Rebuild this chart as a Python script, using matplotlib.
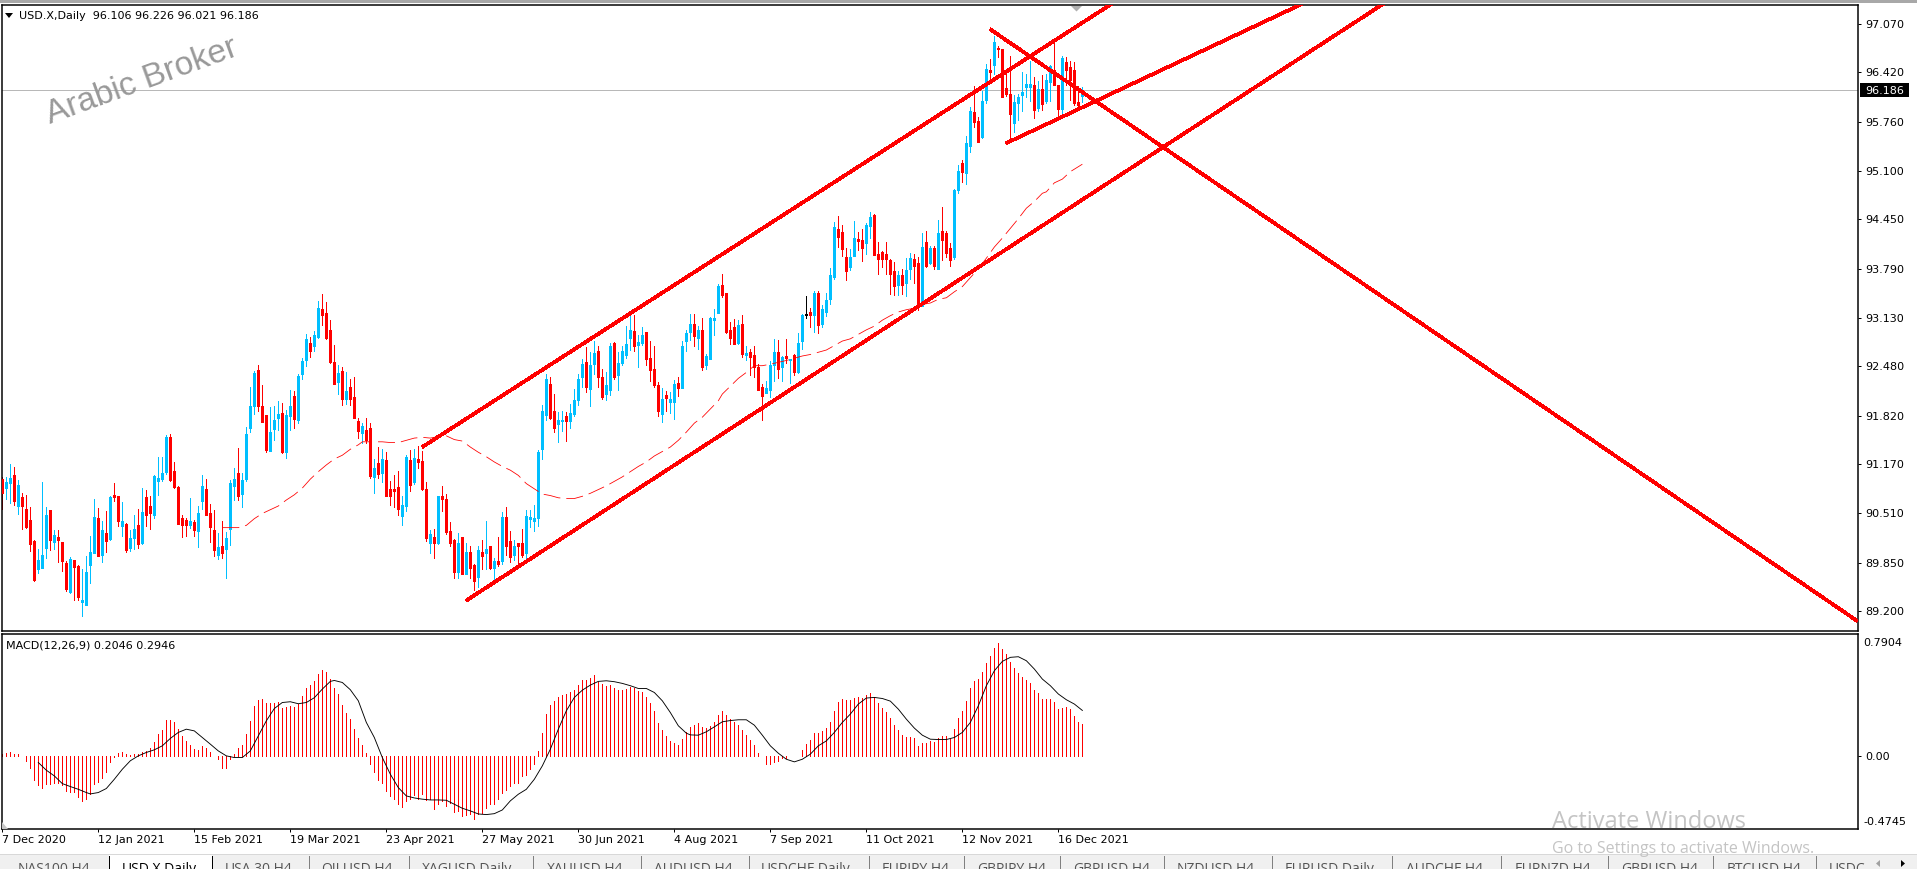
import matplotlib
matplotlib.use('Agg')
import matplotlib.pyplot as plt
from matplotlib.patches import Rectangle, Polygon
from matplotlib.transforms import Affine2D

plt.rcParams['font.family'] = ['DejaVu Sans']
plt.rcParams['lines.scale_dashes'] = False

W, H = 1917, 869
PX = 72.0 / 100  # one pixel in points at dpi 100
PIXEL = Affine2D().scale(1, -1).translate(0, H)  # pixel coords, origin top left

# daily candles, oldest first
highs = [
  91.00,91.00,91.17,91.13,90.96,90.78,90.76,90.60,90.15,90.03,
  90.93,90.60,90.56,90.29,90.29,90.13,89.87,89.93,89.89,89.82,
  89.76,89.94,90.21,90.70,90.58,90.41,90.54,90.74,90.92,90.74,
  90.66,90.38,90.29,90.49,90.57,90.85,90.82,90.74,91.03,91.27,
  91.27,91.56,91.57,91.20,90.88,90.49,90.45,90.72,90.42,90.61,
  91.03,90.97,90.64,90.56,90.25,90.41,90.26,90.96,91.12,91.39,
  91.05,91.67,92.21,92.42,92.50,92.23,91.83,91.94,91.95,92.02,
  91.99,91.90,92.16,92.15,92.38,92.59,92.92,92.88,92.96,93.36,
  93.45,93.35,93.10,92.77,92.50,92.47,92.41,92.31,92.34,91.79,
  91.72,91.79,91.72,91.24,91.40,91.38,91.33,90.94,91.02,91.08,
  90.74,91.29,91.36,91.37,91.41,91.35,90.93,90.29,90.30,90.75,
  90.88,90.77,90.39,90.17,90.25,90.19,90.12,90.07,89.83,90.07,
  90.15,90.41,90.07,89.91,90.20,90.53,90.59,90.27,90.15,90.11,
  90.30,90.55,90.55,90.62,91.36,91.96,92.38,92.34,92.11,91.87,
  91.88,91.87,91.97,92.18,92.38,92.58,92.74,92.67,92.82,92.75,
  92.44,92.40,92.79,92.81,92.67,92.75,93.02,93.16,93.17,92.90,
  93.01,92.94,92.82,92.75,92.27,92.19,92.15,92.14,92.30,92.34,
  92.82,92.97,93.18,93.18,93.02,93.13,92.65,93.14,93.25,93.58,
  93.72,93.46,93.07,93.11,93.10,93.17,92.76,92.72,92.76,92.51,
  92.24,92.28,92.55,92.85,92.83,92.62,92.85,92.58,92.65,92.93,
  93.18,93.42,93.26,93.49,93.49,93.30,93.46,93.80,94.41,94.50,
  94.37,94.07,94.05,94.43,94.28,94.32,94.40,94.55,94.52,94.15,
  94.03,94.15,93.92,93.88,93.76,93.78,93.93,94.00,93.99,93.95,
  94.27,94.29,94.09,94.09,94.44,94.61,94.30,94.13,94.86,95.18,
  95.24,95.57,95.96,96.24,95.82,96.17,96.53,96.60,96.91,96.77,
  96.73,96.45,96.64,96.12,96.13,96.42,96.40,96.57,96.36,96.30,
  96.38,96.40,96.52,96.83,96.25,96.64,96.63,96.57,96.56,96.24,96.226]
body_tops = [
  90.97,90.93,90.98,91.03,90.89,90.73,90.57,90.42,90.14,89.89,
  89.95,90.49,90.56,90.22,90.19,90.13,89.85,89.90,89.89,89.80,
  89.35,89.72,89.99,90.46,90.45,90.29,90.25,90.73,90.76,90.74,
  90.41,90.37,90.18,90.30,90.35,90.53,90.73,90.61,91.01,90.98,
  91.05,91.53,91.53,91.08,90.86,90.45,90.42,90.41,90.39,90.52,
  90.88,90.84,90.52,90.29,90.06,90.07,90.18,90.92,90.97,91.05,
  90.96,91.57,91.95,92.39,92.43,91.95,91.83,91.60,91.76,91.84,
  91.86,91.83,91.95,92.08,92.35,92.55,92.85,92.80,92.90,93.26,
  93.25,93.20,92.97,92.54,92.39,92.42,92.15,92.21,92.07,91.75,
  91.68,91.63,91.65,91.12,91.18,91.24,91.22,90.84,90.84,90.86,
  90.62,91.26,91.22,91.25,91.24,91.21,90.84,90.23,90.19,90.75,
  90.75,90.71,90.27,90.15,90.11,90.19,90.00,90.00,89.82,90.02,
  90.00,90.03,90.07,89.87,89.87,90.46,90.46,90.14,90.07,90.11,
  90.12,90.47,90.46,90.45,91.33,91.88,92.31,92.24,91.88,91.76,
  91.76,91.81,91.85,92.03,92.31,92.51,92.54,92.50,92.66,92.69,
  92.34,92.23,92.75,92.79,92.52,92.69,92.78,92.97,92.95,92.81,
  92.90,92.94,92.59,92.44,92.23,92.04,92.10,92.04,92.24,92.26,
  92.75,92.93,93.05,93.05,92.97,92.97,92.62,93.13,93.13,93.56,
  93.57,93.46,92.97,93.01,93.03,93.05,92.66,92.68,92.63,92.47,
  92.20,92.19,92.50,92.67,92.68,92.60,92.62,92.58,92.63,92.80,
  93.17,93.18,93.21,93.46,93.46,93.25,93.37,93.70,94.35,94.32,
  94.28,93.95,93.95,94.20,94.19,94.17,94.37,94.48,94.51,93.99,
  94.01,93.99,93.91,93.76,93.70,93.70,93.77,93.93,93.92,93.87,
  94.08,94.15,94.07,94.07,94.27,94.29,94.27,94.07,94.84,95.10,
  95.20,95.47,95.90,95.89,95.77,96.04,96.46,96.45,96.83,96.75,
  96.73,96.21,96.13,96.02,96.09,96.16,96.26,96.26,96.25,96.20,
  96.20,96.32,96.50,96.45,96.25,96.61,96.56,96.49,96.45,96.02,96.186]
body_bottoms = [
  90.78,90.85,90.92,90.68,90.61,90.61,90.33,90.10,89.62,89.76,
  89.78,90.05,90.15,90.13,90.15,89.87,89.50,89.46,89.79,89.39,
  89.32,89.28,89.82,89.98,89.94,89.95,90.14,90.17,90.73,90.41,
  90.34,90.02,90.05,90.18,90.10,90.11,90.49,90.52,90.49,90.94,
  90.97,91.07,90.96,90.86,90.37,90.35,90.35,90.35,90.29,90.27,
  90.68,90.49,90.33,90.02,89.95,89.98,90.03,90.30,90.88,90.74,
  90.77,90.97,91.66,91.95,91.95,91.74,91.36,91.35,91.64,91.79,
  91.33,91.33,91.82,91.78,91.76,92.38,92.57,92.69,92.75,92.88,
  93.17,92.86,92.54,92.25,92.27,92.04,92.04,92.04,91.79,91.62,
  91.59,91.49,91.01,91.00,91.04,91.05,90.75,90.74,90.81,90.57,
  90.47,90.61,90.89,90.93,91.20,90.84,90.18,90.11,90.11,90.11,
  90.70,90.26,90.12,89.72,89.72,89.70,89.70,89.78,89.60,89.66,
  89.94,89.98,89.78,89.78,89.83,89.87,90.08,89.92,89.95,90.07,
  89.96,89.98,90.43,90.41,90.45,91.37,91.83,91.79,91.65,91.71,
  91.75,91.75,91.75,91.84,92.03,92.34,92.20,92.18,92.51,92.34,
  92.07,92.11,92.16,92.34,92.36,92.52,92.63,92.86,92.75,92.77,
  92.79,92.58,92.43,92.23,91.88,91.84,92.06,92.00,92.00,92.19,
  92.19,92.82,92.94,92.89,92.86,92.47,92.50,92.58,93.10,93.20,
  93.44,92.94,92.86,92.78,92.80,92.64,92.63,92.60,92.47,92.16,
  92.09,92.12,92.16,92.50,92.44,92.47,92.59,92.56,92.40,92.40,
  92.82,93.17,93.17,93.17,93.03,93.05,93.21,93.38,93.68,94.21,
  94.05,93.76,93.81,93.96,94.16,94.07,94.13,94.36,93.97,93.92,
  93.92,93.92,93.72,93.56,93.57,93.57,93.60,93.78,93.82,93.29,
  93.29,93.82,93.87,93.82,93.78,94.17,94.00,93.90,93.94,94.84,
  95.08,95.07,95.43,95.75,95.49,95.55,96.05,96.42,96.52,96.73,
  96.09,96.13,95.86,95.74,96.01,96.12,96.22,96.22,95.92,95.94,
  95.99,96.04,96.29,96.25,95.93,95.93,96.45,96.32,96.01,95.98,96.106]
lows = [
  90.57,90.70,90.65,90.62,90.50,90.30,90.31,90.01,89.60,89.71,
  89.78,89.91,90.02,90.03,89.86,89.74,89.47,89.44,89.35,89.35,
  89.13,89.28,89.58,89.98,89.94,89.86,89.99,90.15,90.68,90.34,
  90.21,89.99,90.01,90.03,90.05,90.10,90.34,90.30,90.45,90.76,
  90.94,91.04,90.94,90.85,90.37,90.19,90.21,90.31,90.21,90.06,
  90.57,90.49,90.13,89.94,89.90,89.91,89.64,90.09,90.69,90.69,
  90.60,90.94,91.60,91.84,91.88,91.74,91.33,91.35,91.49,91.63,
  91.32,91.25,91.63,91.66,91.72,92.31,92.49,92.61,92.69,92.86,
  93.04,92.85,92.53,92.25,92.11,91.96,91.98,91.96,91.79,91.52,
  91.45,91.45,90.98,90.79,90.98,90.93,90.74,90.62,90.59,90.49,
  90.35,90.54,90.81,90.90,91.12,90.82,90.14,89.98,89.91,90.10,
  90.54,90.23,90.07,89.64,89.64,89.70,89.70,89.64,89.48,89.53,
  89.76,89.76,89.76,89.61,89.80,89.83,89.96,89.86,89.88,89.80,
  89.92,89.88,90.33,90.27,90.34,91.24,91.76,91.77,91.60,91.47,
  91.61,91.48,91.65,91.81,91.96,92.20,92.14,91.95,92.38,92.20,
  92.04,92.03,92.10,92.31,92.16,92.50,92.59,92.70,92.69,92.47,
  92.77,92.50,92.28,92.20,91.81,91.73,91.88,91.85,91.77,92.08,
  92.19,92.69,92.83,92.75,92.71,92.43,92.44,92.58,92.90,93.19,
  93.41,92.93,92.78,92.78,92.78,92.60,92.56,92.36,92.34,92.16,
  91.76,92.12,92.07,92.28,92.32,92.28,92.52,92.26,92.36,92.39,
  92.71,93.13,93.01,92.94,92.93,93.01,93.15,93.31,93.65,94.08,
  93.96,93.64,93.77,93.96,94.04,93.89,93.99,94.20,93.97,93.72,
  93.81,93.72,93.45,93.44,93.44,93.45,93.42,93.65,93.60,93.23,
  93.29,93.81,93.85,93.78,93.78,93.90,93.94,93.82,93.92,94.80,
  94.95,94.92,95.35,95.69,95.49,95.54,96.01,96.30,96.40,96.63,
  96.09,96.10,95.51,95.62,95.78,95.90,96.09,96.04,95.81,95.90,
  95.92,96.01,96.04,96.25,95.81,95.85,96.25,96.05,95.98,95.92,96.021]
# bars that closed up (drawn blue), everything else is red
bull_bars = [
  1,2,4,9,10,11,13,17,20,21,22,23,25,27,30,32,33,35,38,39,40,41,47,49,50,54,56,57,58,60,61,62,63,
  67,68,69,71,72,74,75,76,78,79,84,86,90,93,95,100,101,103,107,109,114,116,119,121,123,125,128,
  131,132,133,134,135,136,139,140,142,143,144,145,147,148,151,152,154,155,156,157,159,160,165,167,
  168,170,171,172,174,176,177,178,179,184,186,191,192,193,195,197,199,200,203,205,206,207,208,212,
  213,216,217,224,226,227,230,232,234,238,239,241,242,245,246,248,253,254,255,256,257,259,261,262,
  265,270]
doji_bars = [201]

# moving average
ma_bars = [
  55,59,61,63,65,67,69,71,73,75,77,79,81,83,85,87,89,90,91,93,95,97,99,101,103,105,107,109,111,113,
  115,117,119,121,123,125,127,129,131,133,135,137,139,141,143,145,147,149,151,153,155,157,159,161,
  163,165,167,169,171,173,175,177,179,180,184,186,188,190,192,196,200,202,204,206,208,210,212,214,
  216,218,220,222,224,226,228,230,232,234,236,238,240,242,244,246,248,250,252,254,256,258,260,261,
  263,265,267,270]
ma_values = [
  90.32,90.32,90.35,90.44,90.51,90.56,90.61,90.69,90.76,90.85,90.97,91.07,91.16,91.24,91.29,91.37,
  91.43,91.47,91.47,91.47,91.47,91.46,91.46,91.49,91.52,91.53,91.52,91.54,91.55,91.50,91.48,91.40,
  91.33,91.27,91.20,91.14,91.09,91.02,90.91,90.84,90.77,90.75,90.72,90.71,90.71,90.74,90.78,90.83,
  90.88,90.94,91.00,91.07,91.14,91.20,91.28,91.34,91.40,91.49,91.60,91.72,91.80,91.91,92.02,92.11,
  92.32,92.40,92.49,92.49,92.51,92.56,92.62,92.64,92.67,92.70,92.76,92.82,92.85,92.91,92.97,93.02,
  93.10,93.16,93.21,93.24,93.26,93.31,93.33,93.38,93.40,93.48,93.55,93.67,93.79,93.93,94.08,94.20,
  94.33,94.46,94.60,94.69,94.80,94.82,94.94,94.99,95.09,95.19]

# hand drawn trend lines: (bar, price) ends
upper_channel = ([105, 280], [91.40, 97.43])
lower_channel = ([115.9, 347], [89.34, 97.40])
wedge_low = ([250.9, 327], [95.47, 97.39])
wedge_high = ([246.9, 463.7], [97.00, 89.07])

macd_hist = [
  0.010,0.017,0.024,0.013,0.009,0.000,-0.032,-0.076,-0.156,-0.188,
  -0.208,-0.184,-0.182,-0.178,-0.173,-0.188,-0.229,-0.232,-0.234,-0.266,
  -0.292,-0.281,-0.245,-0.184,-0.169,-0.141,-0.108,-0.039,-0.006,0.017,
  0.028,0.009,0.004,0.009,0.011,0.026,0.032,0.054,0.087,0.141,
  0.167,0.234,0.232,0.217,0.173,0.130,0.097,0.069,0.043,0.039,
  0.061,0.050,0.022,0.000,-0.022,-0.076,-0.076,-0.022,0.009,0.054,
  0.069,0.141,0.225,0.323,0.362,0.370,0.346,0.342,0.342,0.349,
  0.312,0.320,0.323,0.314,0.336,0.385,0.439,0.459,0.483,0.530,
  0.556,0.546,0.498,0.439,0.401,0.329,0.281,0.238,0.173,0.115,
  0.069,0.017,-0.054,-0.104,-0.158,-0.178,-0.227,-0.260,-0.281,-0.314,
  -0.331,-0.292,-0.281,-0.253,-0.281,-0.249,-0.288,-0.281,-0.346,-0.314,
  -0.292,-0.325,-0.303,-0.364,-0.357,-0.390,-0.383,-0.379,-0.411,-0.379,
  -0.368,-0.336,-0.314,-0.314,-0.281,-0.238,-0.223,-0.195,-0.173,-0.178,
  -0.130,-0.126,-0.087,-0.054,0.032,0.147,0.271,0.329,0.355,0.379,
  0.396,0.401,0.411,0.426,0.459,0.491,0.494,0.504,0.522,0.476,
  0.465,0.450,0.459,0.439,0.426,0.426,0.433,0.448,0.437,0.422,
  0.414,0.383,0.344,0.290,0.214,0.167,0.130,0.095,0.082,0.069,
  0.108,0.152,0.186,0.199,0.212,0.184,0.178,0.195,0.221,0.264,
  0.290,0.268,0.238,0.221,0.199,0.167,0.134,0.102,0.069,0.017,
  0.000,-0.050,-0.054,-0.039,-0.032,-0.017,-0.017,-0.004,-0.004,-0.002,
  0.039,0.076,0.102,0.147,0.147,0.160,0.180,0.221,0.292,0.351,
  0.368,0.364,0.364,0.377,0.381,0.375,0.396,0.407,0.379,0.342,
  0.310,0.284,0.245,0.199,0.167,0.134,0.121,0.121,0.115,0.063,
  0.082,0.082,0.095,0.089,0.115,0.128,0.128,0.108,0.173,0.245,
  0.290,0.355,0.439,0.485,0.498,0.543,0.602,0.647,0.699,0.732,
  0.693,0.660,0.608,0.569,0.537,0.511,0.491,0.472,0.426,0.407,
  0.368,0.366,0.368,0.349,0.303,0.312,0.316,0.303,0.258,0.219,0.2046]

signal_bars = [
  9,11,13,15,17,19,21,22,24,26,28,30,32,34,36,38,40,42,44,46,48,50,52,54,56,58,60,62,64,66,68,70,
  72,74,76,78,80,82,83,85,87,89,91,93,95,97,99,101,103,105,107,109,111,113,115,117,119,121,123,125,
  127,129,131,133,135,137,139,141,143,145,147,149,151,153,155,157,159,161,163,165,167,169,171,172,
  174,176,178,180,182,184,186,188,190,192,194,196,198,200,202,204,206,208,210,212,214,216,218,220,
  222,224,226,228,230,232,234,236,238,240,242,244,246,248,250,252,254,256,258,260,262,264,266,268,270]
signal_values = [
  -0.043,-0.093,-0.130,-0.180,-0.199,-0.217,-0.238,-0.247,-0.238,-0.212,-0.152,-0.087,-0.032,0.000,
  0.022,0.039,0.065,0.113,0.152,0.173,0.162,0.119,0.076,0.032,0.000,-0.011,-0.011,0.032,0.130,0.227,
  0.307,0.346,0.351,0.338,0.346,0.377,0.433,0.483,0.489,0.476,0.429,0.357,0.217,0.119,-0.011,-0.119,
  -0.206,-0.260,-0.273,-0.281,-0.286,-0.286,-0.288,-0.314,-0.340,-0.357,-0.377,-0.381,-0.375,-0.351,
  -0.292,-0.249,-0.217,-0.152,-0.065,0.043,0.173,0.292,0.379,0.426,0.459,0.483,0.487,0.481,0.470,
  0.455,0.437,0.437,0.411,0.357,0.281,0.195,0.147,0.136,0.134,0.156,0.188,0.221,0.229,0.234,0.234,
  0.199,0.134,0.065,0.017,-0.022,-0.039,-0.022,0.011,0.065,0.097,0.152,0.217,0.271,0.336,0.375,0.379,
  0.372,0.355,0.303,0.238,0.180,0.134,0.108,0.106,0.106,0.119,0.152,0.217,0.325,0.455,0.552,0.613,
  0.639,0.643,0.617,0.563,0.498,0.455,0.401,0.364,0.336,0.2946]

price_ticks = [97.07, 96.42, 95.76, 95.10, 94.45, 93.79, 93.13, 92.48, 91.82, 91.17, 90.51, 89.85, 89.20]
last_price = 96.186
date_bars = [0, 24, 48, 72, 96, 120, 144, 168, 192, 216, 240, 264]
date_labels = ['7 Dec 2020', '12 Jan 2021', '15 Feb 2021', '19 Mar 2021', '23 Apr 2021', '27 May 2021',
               '30 Jun 2021', '4 Aug 2021', '7 Sep 2021', '11 Oct 2021', '12 Nov 2021', '16 Dec 2021']
tab_names = ['NAS100,H4', 'USD.X,Daily', 'USA.30,H4', 'OILUSD,H4', 'XAGUSD,Daily', 'XAUUSD,H4', 'AUDUSD,H4',
             'USDCHF,Daily', 'EURJPY,H4', 'GBPJPY,H4', 'GBPUSD,H4', 'NZDUSD,H4', 'EURUSD,Daily', 'AUDCHF,H4',
             'EURNZD,H4', 'GBPUSD,H4', 'BTCUSD,H4', 'USDC']
tab_text_x = [18, 122, 225, 321, 422, 547, 654, 761, 882, 977, 1073, 1177, 1285, 1406, 1515, 1621, 1727, 1829]
tab_edges = [109, 212, 309, 409, 533, 641, 749, 869, 964, 1060, 1164, 1272, 1392, 1501, 1608, 1713, 1816]

BLUE = '#00BFFF'
RED = '#FF0000'


def add_px_axes(fig, left, top, right, bottom):
  ax = fig.add_axes([left / W, 1 - bottom / H, (right - left) / W, (bottom - top) / H])
  for s in ax.spines.values():
    s.set_linewidth(1.5 * PX)
    s.set_color('black')
  return ax


def draw_candles(ax):
  bars = range(len(highs))
  colors = []
  for i in bars:
    if i in doji_bars:
      colors.append('black')
    elif i in bull_bars:
      colors.append(BLUE)
    else:
      colors.append(RED)
  ax.vlines(bars, lows, highs, colors=colors, linewidth=1 * PX, antialiased=False, zorder=2)
  ax.vlines(bars, body_bottoms, body_tops, colors=colors, linewidth=3 * PX, antialiased=False, zorder=3)


def draw_price_panel(ax):
  ax.axhline(last_price, color='#b8b8b8', lw=1 * PX, zorder=1)
  ax.plot(ma_bars, ma_values, color=RED, lw=0.8 * PX, linestyle=(0, (17 * PX, 6 * PX)), zorder=4)
  draw_candles(ax)
  for xs, ys in (upper_channel, lower_channel, wedge_low, wedge_high):
    ax.plot(xs, ys, color=RED, lw=2.7 * PX, antialiased=False, solid_capstyle='butt', zorder=5)
  ax.set_xlim(-0.2, 463.9)
  ax.set_ylim(88.935, 97.323)
  ax.set_xticks([])
  ax.yaxis.tick_right()
  ax.set_yticks(price_ticks)
  ax.set_yticklabels(['%.3f' % p for p in price_ticks], fontsize=8)
  ax.tick_params(axis='y', length=3 * PX, width=1 * PX, pad=4 * PX)
  ax.text(19, 16, 'USD.X,Daily  96.106 96.226 96.021 96.186', fontsize=8, va='center', transform=PIXEL)
  ax.text(50, 124, 'Arabic Broker', rotation=20, rotation_mode='anchor', family='Liberation Sans', fontsize=24,
          color='#999999', va='baseline', transform=PIXEL)


def draw_macd_panel(ax):
  ax.vlines(range(len(macd_hist)), 0, macd_hist, colors=RED, linewidth=1 * PX, antialiased=False)
  ax.plot(signal_bars, signal_values, color='black', lw=0.9 * PX)
  ax.set_xlim(-0.2, 463.9)
  ax.set_ylim(-0.4745, 0.7904)
  ax.yaxis.tick_right()
  ax.set_yticks([0.0])
  ax.set_yticklabels(['0.00'], fontsize=8)
  ax.tick_params(axis='y', length=3 * PX, width=1 * PX, pad=4 * PX)
  ax.set_xticks(date_bars)
  ax.set_xticklabels(date_labels, fontsize=8, ha='left')
  ax.tick_params(axis='x', length=3 * PX, width=1 * PX, pad=3 * PX)
  ax.text(6, 645, 'MACD(12,26,9) 0.2046 0.2946', fontsize=8, va='center', transform=PIXEL)
  ax.text(1863, 643, '0.7904', fontsize=8, va='center', transform=PIXEL, clip_on=False)
  ax.text(1863, 822, '-0.4745', fontsize=8, va='center', transform=PIXEL, clip_on=False)


def draw_chrome(ax):
  # window furniture, everything in pixel coordinates
  ax.set_xlim(0, W)
  ax.set_ylim(H, 0)
  ax.axis('off')
  ax.add_patch(Rectangle((0, 0), W, 3, color='#a8a8a8', lw=0))
  ax.add_patch(Polygon([(5, 13), (13, 13), (9, 18)], color='black', lw=0))
  ax.add_patch(Polygon([(1071, 6), (1082, 6), (1076.5, 11.5)], color='#b0b0b0', lw=0))
  ax.add_patch(Polygon([(2, 822), (2, 829), (8, 829)], color='#c8c8c8', lw=0))
  ax.add_patch(Rectangle((1860, 83), 49, 14, color='black', lw=0))
  ax.text(1865, 90.5, '%.3f' % last_price, color='white', fontsize=8, va='center')

  ax.add_patch(Rectangle((0, 854), W, 15, color='#f0f0f0', lw=0))
  ax.plot([0, W], [854, 854], color='#d8d8d8', lw=1 * PX)
  ax.add_patch(Rectangle((109, 855), 103, 14, color='white', lw=0))
  for x in tab_edges:
    ax.plot([x, x], [856, 869], color='black' if x in (109, 212) else '#808080', lw=1 * PX)
  for name, x in zip(tab_names, tab_text_x):
    ax.text(x, 862, name, family='Open Sans', fontsize=10, color='black' if name == 'USD.X,Daily' else '#555555',
            va='top', clip_on=True)
  ax.add_patch(Polygon([(1880, 860), (1880, 867), (1876, 863.5)], color='#a0a0a0', lw=0))
  ax.add_patch(Polygon([(1901, 860), (1901, 867), (1905, 863.5)], color='black', lw=0))

  ax.text(1552, 828, 'Activate Windows', family='Open Sans', fontsize=17, color='#c4c4c4', va='baseline')
  ax.text(1552, 853, 'Go to Settings to activate Windows.', family='Open Sans', fontsize=11.5, color='#c4c4c4',
          va='baseline')


fig = plt.figure(figsize=(W / 100, H / 100), dpi=100, facecolor='white')

price_ax = add_px_axes(fig, 1.5, 5, 1858, 631)
macd_ax = add_px_axes(fig, 1.5, 634, 1858, 829)
chrome_ax = fig.add_axes([0, 0, 1, 1], zorder=10)
chrome_ax.patch.set_alpha(0)

draw_price_panel(price_ax)
draw_macd_panel(macd_ax)
draw_chrome(chrome_ax)

fig.savefig('out.png', dpi=100)
